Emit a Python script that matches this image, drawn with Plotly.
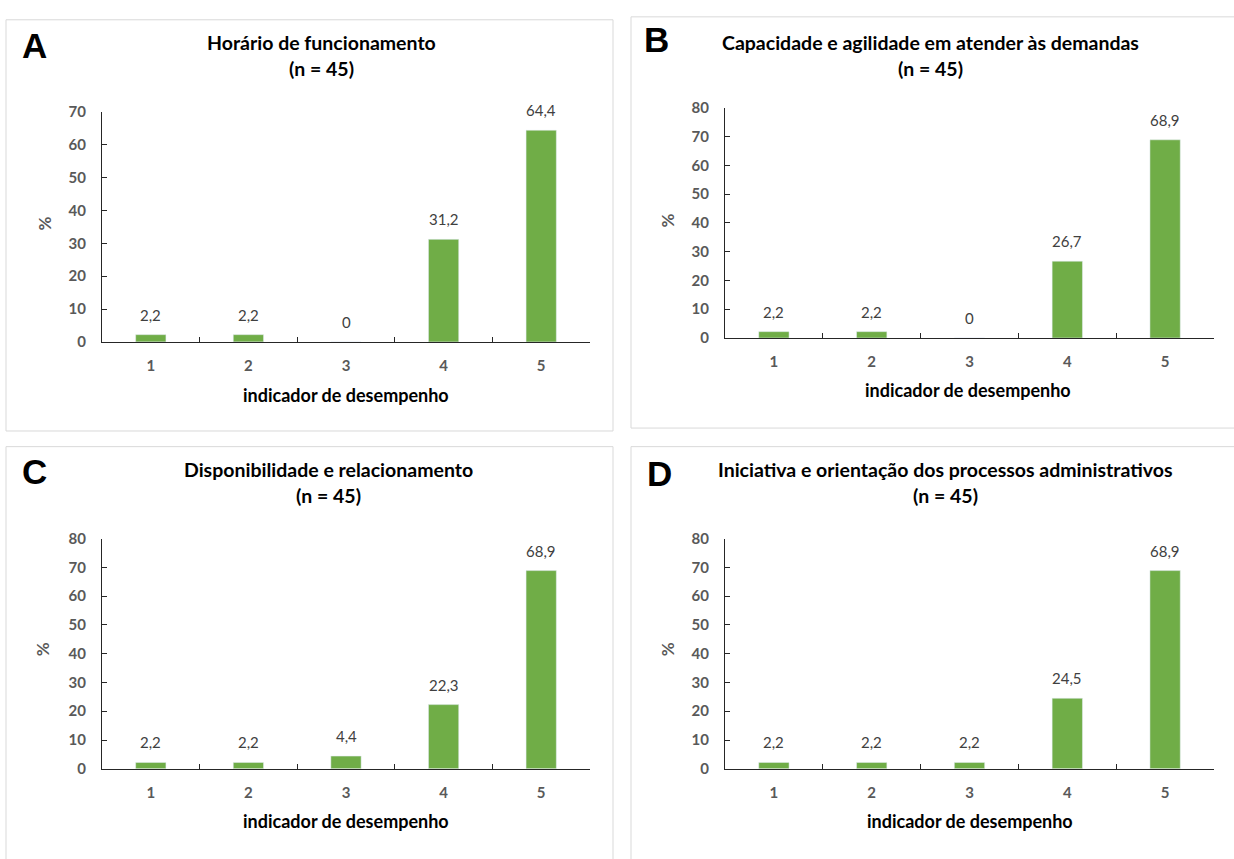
import plotly.graph_objects as go

W, H = 1234, 859

categories = ["1", "2", "3", "4", "5"]
panel_letters = ["A", "B", "C", "D"]
panel_titles = [
    "Horário de funcionamento",
    "Capacidade e agilidade em atender às demandas",
    "Disponibilidade e relacionamento",
    "Iniciativa e orientação dos processos administrativos",
]
panel_n = ["(n = 45)", "(n = 45)", "(n = 45)", "(n = 45)"]
values_A = [2.2, 2.2, 0, 31.2, 64.4]
values_B = [2.2, 2.2, 0, 26.7, 68.9]
values_C = [2.2, 2.2, 4.4, 22.3, 68.9]
values_D = [2.2, 2.2, 2.2, 24.5, 68.9]
y_max = [70, 80, 80, 80]
x_title = "indicador de desempenho"
y_title = "%"

series = [values_A, values_B, values_C, values_D]

# layout geometry (pixels)
plot_px = [
    (102, 590, 104, 339),
    (725, 1214, 100, 335),
    (102, 590, 540, 775),
    (725, 1214, 540, 775),
]
borders = [
    (6, 10, 613, 430),
    (631, 7, 1240, 427),
    (6, 446, 613, 870),
    (631, 446, 1240, 870),
]
title_pos = [(321, 33, 60), (930, 33, 60), (328, 469, 496), (945, 469, 496)]
letter_pos = [(34, 36), (656, 30), (34, 471), (659, 473)]
xtitle_pos = [(346, 393), (968, 388), (346, 828), (970, 828)]
ytitle_pos = [(44, 218), (667, 215), (42, 653), (667, 653)]

GREEN = "#70AD47"
GRAY = "#595959"
AXIS = "#262626"
FONT = "Lato"


def fmt(v):
    return "0" if v == 0 else f"{v:.1f}".replace(".", ",")


fig = go.Figure()
annotations = []
shapes = []

for i, vals in enumerate(series):
    sfx = "" if i == 0 else str(i + 1)
    x0, x1, yt, yb = plot_px[i]
    fig.add_trace(go.Bar(
        x=categories, y=vals, marker_color=GREEN, width=0.31,
        xaxis="x" + sfx, yaxis="y" + sfx, showlegend=False,
        hoverinfo="skip",
    ))
    fig.layout["xaxis" + sfx] = dict(
        domain=[x0 / W, x1 / W], anchor="y" + sfx, type="category",
        range=[-0.5, len(categories) - 0.5],
        showline=True, linecolor=AXIS, linewidth=1,
        ticks="inside", tickson="boundaries", ticklen=5, tickcolor=AXIS,
        showgrid=False, zeroline=False, fixedrange=True,
        tickfont=dict(family=FONT, size=15, color=GRAY, weight="bold"),
        ticklabelstandoff=10,
    )
    fig.layout["yaxis" + sfx] = dict(
        domain=[1 - yb / H, 1 - yt / H], anchor="x" + sfx,
        range=[0, y_max[i]], dtick=10,
        showline=True, linecolor=AXIS, linewidth=1,
        ticks="inside", ticklen=5, tickcolor=AXIS,
        showgrid=False, zeroline=False, fixedrange=True,
        tickfont=dict(family=FONT, size=15, color=GRAY, weight="bold"),
        ticklabelstandoff=12,
    )
    # data labels (x given as category index on the category axis)
    for j, v in enumerate(vals):
        annotations.append(dict(
            x=j, y=v, xref="x" + sfx, yref="y" + sfx, text=fmt(v),
            showarrow=False, yanchor="middle", yshift=20,
            font=dict(family=FONT, size=15, color="#404040"),
        ))
    # titles
    tx, ty1, ty2 = title_pos[i]
    annotations.append(dict(
        x=tx / W, y=1 - ty1 / H, xref="paper", yref="paper",
        text="<b>" + panel_titles[i] + "</b>", showarrow=False,
        xanchor="center", yanchor="middle",
        font=dict(family=FONT, size=19.5, color="#000000"),
    ))
    annotations.append(dict(
        x=tx / W, y=1 - ty2 / H, xref="paper", yref="paper",
        text="<b>" + panel_n[i] + "</b>", showarrow=False,
        xanchor="center", yanchor="middle",
        font=dict(family=FONT, size=19.5, color="#000000"),
    ))
    lx, ly = letter_pos[i]
    annotations.append(dict(
        x=lx / W, y=1 - ly / H, xref="paper", yref="paper",
        text="<b>" + panel_letters[i] + "</b>", showarrow=False,
        xanchor="center", yanchor="middle",
        font=dict(family="Liberation Sans", size=35, color="#000000"),
    ))
    xx, xy = xtitle_pos[i]
    annotations.append(dict(
        x=xx / W, y=1 - xy / H, xref="paper", yref="paper",
        text="<b>" + x_title + "</b>", showarrow=False,
        xanchor="center", yanchor="middle",
        font=dict(family=FONT, size=18, color="#000000"),
    ))
    yx, yy = ytitle_pos[i]
    annotations.append(dict(
        x=yx / W, y=1 - yy / H, xref="paper", yref="paper",
        text="<b>" + y_title + "</b>", showarrow=False, textangle=-90,
        xanchor="center", yanchor="middle",
        font=dict(family=FONT, size=17, color=GRAY),
    ))
    bx0, by0, bx1, by1 = borders[i]
    shapes.append(dict(
        type="rect", xref="paper", yref="paper",
        x0=bx0 / W, x1=bx1 / W, y0=1 - by1 / H, y1=1 - by0 / H,
        line=dict(color="#D9D9D9", width=1), layer="below",
    ))

fig.update_layout(
    width=W, height=H, margin=dict(l=0, r=0, t=0, b=0),
    paper_bgcolor="white", plot_bgcolor="white",
    annotations=annotations, shapes=shapes, bargap=0.5,
)

fig.write_html("out.html", config={"displayModeBar": False})
